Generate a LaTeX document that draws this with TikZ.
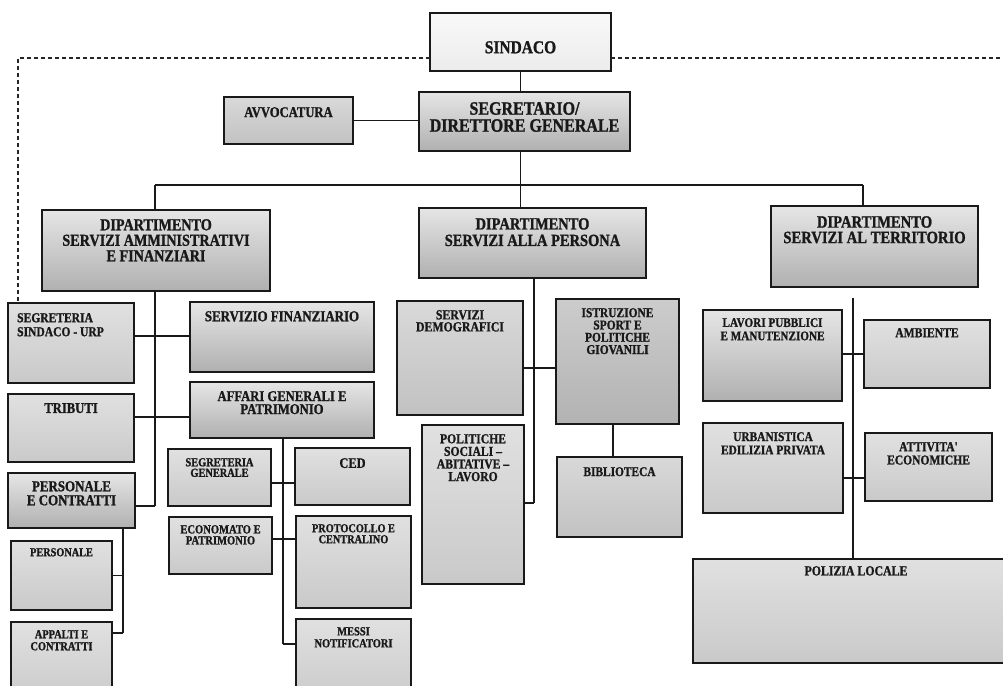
\documentclass[tikz,border=0pt]{standalone}
\usepackage{fontspec}
\setmainfont{Liberation Serif}
\newfontfamily\boxfont{Liberation Serif Bold}[Scale=1.07, FakeStretch=0.85, FakeBold=1.2]
\tikzset{
  bx/.style={draw=black!90, line width=1.3pt, inner sep=0pt, outer sep=0pt},
  flat/.style={top color=gray!24, bottom color=gray!42},
  flatd/.style={top color=gray!30, bottom color=gray!48},
  grad/.style={top color=gray!20, middle color=gray!28, bottom color=gray!62},
  pale/.style={top color=gray!5, bottom color=gray!15},
  dark/.style={top color=gray!40, bottom color=gray!60},
  conn/.style={draw=black!90, line width=1.2pt},
  dotline/.style={draw=black!85, line width=1.1pt, dash pattern=on 4pt off 3pt},
  lbl/.style={inner sep=0pt, align=center, anchor=north, text=black!90},
  fs/.style={font=\fontsize{#1}{#1}\selectfont\boxfont},
  fsb/.style 2 args={font=\fontsize{#1}{#2}\selectfont\boxfont},
}
\newcommand\orgbox[6]{\node[bx,#6,minimum width={(#4-#2)*1pt},minimum height={(#5-#3)*1pt}] (#1) at ({(#2+#4)/2},{(#3+#5)/2}) {};}
\begin{document}
\begin{tikzpicture}[x=1pt,y=-1pt]
\path[use as bounding box] (0,0) rectangle (1003,685);
\fill[white] (0,0) rectangle (1003,685);
\clip (0,0) rectangle (1003,685);

% boxes
\orgbox{sind}{430}{13}{611}{71}{pale}
\orgbox{segr}{419}{92}{630}{151}{grad}
\orgbox{avv}{224}{97}{353}{144}{flatd}
\orgbox{d1}{42}{210}{270}{291}{grad}
\orgbox{d2}{419}{208}{646}{278}{grad}
\orgbox{d3}{771}{206}{978}{287}{grad}
\orgbox{ssu}{8}{303}{134}{383}{flat}
\orgbox{sfin}{190}{302}{374}{372}{grad}
\orgbox{trib}{8}{394}{134}{462}{flat}
\orgbox{aff}{190}{382}{374}{438}{grad}
\orgbox{pc}{8}{473}{135}{528}{grad}
\orgbox{pers}{11}{541}{112}{610}{flat}
\orgbox{app}{11}{622}{112}{705}{flat}
\orgbox{sg}{168}{449}{271}{506}{flat}
\orgbox{ced}{295}{448}{410}{505}{flat}
\orgbox{eco}{169}{517}{272}{574}{flat}
\orgbox{prot}{296}{516}{411}{608}{flat}
\orgbox{mes}{296}{619}{411}{705}{flat}
\orgbox{sd}{397}{301}{523}{415}{flatd}
\orgbox{ist}{556}{299}{679}{424}{dark}
\orgbox{pol}{422}{425}{524}{584}{flat}
\orgbox{bib}{557}{457}{682}{537}{flatd}
\orgbox{lp}{703}{310}{842}{401}{grad}
\orgbox{amb}{864}{320}{990}{388}{flat}
\orgbox{urb}{703}{423}{843}{513}{flat}
\orgbox{att}{865}{433}{992}{501}{flat}
\orgbox{pl}{693}{559}{1019}{663}{flat}

% texts
\node[lbl,fs=17] (sind-t) at ([yshift=-28pt]sind.north) {SINDACO};
\node[lbl,fsb={17.6}{17}] (segr-t) at ([yshift=-10pt]segr.north) {SEGRETARIO/\\DIRETTORE GENERALE};
\node[lbl,fs=13.9] (avv-t) at ([yshift=-10pt]avv.north) {AVVOCATURA};
\node[lbl,fsb={15.6}{15.5}] (d1-t) at ([yshift=-9pt]d1.north) {DIPARTIMENTO\\SERVIZI AMMINISTRATIVI\\E FINANZIARI};
\node[lbl,fsb={15.9}{16.5}] (d2-t) at ([yshift=-10pt]d2.north) {DIPARTIMENTO\\SERVIZI ALLA PERSONA};
\node[lbl,fsb={16.1}{15.5}] (d3-t) at ([yshift=-10pt]d3.north) {DIPARTIMENTO\\SERVIZI AL TERRITORIO};
\node[lbl,fsb={12.7}{14},anchor=north west,align=left] (ssu-t) at ([xshift=9pt,yshift=-10pt]ssu.north west) {SEGRETERIA\\SINDACO - URP};
\node[lbl,fs=14.2] (sfin-t) at ([yshift=-9pt]sfin.north) {SERVIZIO FINANZIARIO};
\node[lbl,fs=13.9] (trib-t) at ([yshift=-9pt]trib.north) {TRIBUTI};
\node[lbl,fsb={13.9}{13}] (aff-t) at ([yshift=-9pt]aff.north) {AFFARI GENERALI E\\PATRIMONIO};
\node[lbl,fsb={14.2}{14}] (pc-t) at ([yshift=-8pt]pc.north) {PERSONALE\\E CONTRATTI};
\node[lbl,fs=11.3] (pers-t) at ([yshift=-7pt]pers.north) {PERSONALE};
\node[lbl,fsb={11.4}{12}] (app-t) at ([yshift=-8pt]app.north) {APPALTI E\\CONTRATTI};
\node[lbl,fsb={11.4}{10.5}] (sg-t) at ([yshift=-9pt]sg.north) {SEGRETERIA\\GENERALE};
\node[lbl,fs=13.6] (ced-t) at ([yshift=-10pt]ced.north) {CED};
\node[lbl,fsb={11.6}{11}] (eco-t) at ([yshift=-8pt]eco.north) {ECONOMATO E\\PATRIMONIO};
\node[lbl,fsb={11.3}{11}] (prot-t) at ([yshift=-8pt]prot.north) {PROTOCOLLO E\\CENTRALINO};
\node[lbl,fsb={11.5}{12}] (mes-t) at ([yshift=-8pt]mes.north) {MESSI\\NOTIFICATORI};
\node[lbl,fsb={13}{12}] (sd-t) at ([yshift=-9pt]sd.north) {SERVIZI\\DEMOGRAFICI};
\node[lbl,fsb={12.6}{12.3}] (ist-t) at ([yshift=-9pt]ist.north) {ISTRUZIONE\\SPORT E\\POLITICHE\\GIOVANILI};
\node[lbl,fsb={12.8}{12.6}] (pol-t) at ([yshift=-9pt]pol.north) {POLITICHE\\SOCIALI –\\ABITATIVE –\\LAVORO};
\node[lbl,fs=12.5] (bib-t) at ([yshift=-10pt]bib.north) {BIBLIOTECA};
\node[lbl,fsb={12.3}{13.3}] (lp-t) at ([yshift=-8pt]lp.north) {LAVORI PUBBLICI\\E MANUTENZIONE};
\node[lbl,fs=12.8] (amb-t) at ([yshift=-8pt]amb.north) {AMBIENTE};
\node[lbl,fsb={12.5}{13.3}] (urb-t) at ([yshift=-9pt]urb.north) {URBANISTICA\\EDILIZIA PRIVATA};
\node[lbl,fsb={12.7}{13.3}] (att-t) at ([yshift=-9pt]att.north) {ATTIVITA'\\ECONOMICHE};
\node[lbl,fs=13] (pl-t) at ([yshift=-7pt]pl.north) {POLIZIA LOCALE};

% helper coordinates
\coordinate (busL) at (155,185);
\coordinate (busR) at (863,185);
\coordinate (dL) at (18,58);
\coordinate (dR) at (1003,58);
\coordinate (s1) at (155,506);
\coordinate (s2) at (123,633);
\coordinate (s3) at (283,644);
\coordinate (s4) at (534,503);
\coordinate (s5) at (853,298);
\coordinate (y336) at (0,336);
\coordinate (y417) at (0,417);
\coordinate (y483) at (0,483);
\coordinate (y539) at (0,539);
\coordinate (y368) at (0,368);
\coordinate (y354) at (0,354);
\coordinate (y478) at (0,478);
\coordinate (x613) at (613,0);

% dashed link
\draw[dotline] (sind.west |- dL) -- (dL) -- (dL |- ssu.north);
\draw[dotline] (sind.east |- dR) -- (dR);

% top connectors
\draw[conn] (sind.south) -- (sind.south |- segr.north);
\draw[conn] (avv.east) -- (avv.east -| segr.west);
\draw[conn] (sind.south |- segr.south) -- (sind.south |- d2.north);
\draw[conn] (busL) -- (busR);
\draw[conn] (busL) -- (busL |- d1.north);
\draw[conn] (busR) -- (busR |- d3.north);

% department 1
\draw[conn] (busL |- d1.south) -- (s1);
\draw[conn] (ssu.east |- y336) -- (sfin.west |- y336);
\draw[conn] (trib.east |- y417) -- (aff.west |- y417);
\draw[conn] (pc.east |- s1) -- (s1);
\draw[conn] (s2 |- pc.south) -- (s2);
\draw[conn] (pers.east) -- (pers.east -| s2);
\draw[conn] (app.east |- s2) -- (s2);
\draw[conn] (s3 |- aff.south) -- (s3);
\draw[conn] (sg.east |- y483) -- (ced.west |- y483);
\draw[conn] (eco.east |- y539) -- (prot.west |- y539);
\draw[conn] (mes.west |- s3) -- (s3);

% department 2
\draw[conn] (s4 |- d2.south) -- (s4);
\draw[conn] (sd.east |- y368) -- (ist.west |- y368);
\draw[conn] (pol.east |- s4) -- (s4);
\draw[conn] (x613 |- ist.south) -- (x613 |- bib.north);

% department 3
\draw[conn] (s5) -- (s5 |- pl.north);
\draw[conn] (lp.east |- y354) -- (amb.west |- y354);
\draw[conn] (urb.east |- y478) -- (att.west |- y478);
\end{tikzpicture}
\end{document}
